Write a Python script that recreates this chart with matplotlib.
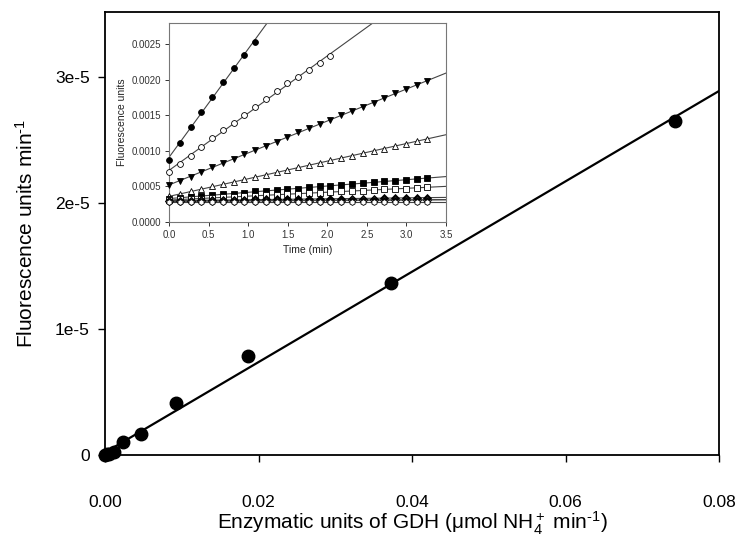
import numpy as np
import matplotlib
matplotlib.use("Agg")
import matplotlib.pyplot as plt
from matplotlib.ticker import FixedLocator, FixedFormatter

plt.rcParams['font.family'] = ['Liberation Sans', 'DejaVu Sans']
plt.rcParams['mathtext.fontset'] = 'custom'
plt.rcParams['mathtext.rm'] = 'Liberation Sans'
plt.rcParams['mathtext.it'] = 'Liberation Sans:italic'
plt.rcParams['mathtext.bf'] = 'Liberation Sans:bold'

# ---- main plot data ----
enzyme_units = [0.0743, 0.0372, 0.0186, 0.0093, 0.00465, 0.00232, 0.00116, 0.00058, 0.00029, 0.0]
fluor_rate = [2.65e-5, 1.37e-5, 0.79e-5, 0.41e-5, 0.167e-5, 0.103e-5, 0.024e-5, 0.010e-5, 0.005e-5, 0.0]
main_xticks = [0.00, 0.02, 0.04, 0.06, 0.08]
main_xticklabels = ['0.00', '0.02', '0.04', '0.06', '0.08']
main_yticks = [0.0, 1e-5, 2e-5, 3e-5]
main_yticklabels = ['0', '1e-5', '2e-5', '3e-5']

# ---- inset data (time courses) ----
time_min = [0.000, 0.136, 0.272, 0.408, 0.544, 0.680, 0.816, 0.952, 1.088, 1.224,
            1.360, 1.496, 1.632, 1.768, 1.904, 2.040, 2.176, 2.312, 2.448, 2.584,
            2.720, 2.856, 2.992, 3.128, 3.264]
s_circle = [0.00087, 0.00111, 0.00134, 0.00155, 0.00176, 0.00197, 0.00217, 0.00235, 0.00253]
s_circle_open = [0.00070, 0.00081, 0.00093, 0.00105, 0.00118, 0.00129, 0.00140, 0.00151,
                 0.00162, 0.00173, 0.00184, 0.00195, 0.00204, 0.00214, 0.00224, 0.00233]
s_tri_down = [0.00052, 0.00058, 0.00064, 0.00071, 0.00077, 0.00083, 0.00089, 0.00095,
              0.00101, 0.00107, 0.00113, 0.00119, 0.00126, 0.00132, 0.00138, 0.00144,
              0.00150, 0.00156, 0.00162, 0.00168, 0.00174, 0.00181, 0.00187, 0.00193, 0.00199]
s_tri_up_open = [0.00036, 0.00039, 0.00043, 0.00046, 0.00050, 0.00053, 0.00056, 0.00060,
                 0.00063, 0.00066, 0.00070, 0.00073, 0.00077, 0.00080, 0.00083, 0.00087,
                 0.00090, 0.00093, 0.00097, 0.00100, 0.00103, 0.00107, 0.00110, 0.00114, 0.00117]
s_square = [0.00033, 0.00034, 0.00035, 0.00037, 0.00038, 0.00039, 0.00040, 0.00041,
            0.00043, 0.00044, 0.00045, 0.00046, 0.00047, 0.00049, 0.00050, 0.00051,
            0.00052, 0.00053, 0.00055, 0.00056, 0.00057, 0.00058, 0.00059, 0.00061, 0.00062]
s_square_open = [0.00031, 0.00032, 0.00032, 0.00033, 0.00034, 0.00035, 0.00035, 0.00036,
                 0.00037, 0.00038, 0.00038, 0.00039, 0.00040, 0.00041, 0.00041, 0.00042,
                 0.00043, 0.00044, 0.00044, 0.00045, 0.00046, 0.00047, 0.00047, 0.00048, 0.00049]
s_diamond = [0.00030, 0.00030, 0.00030, 0.00031, 0.00031, 0.00031, 0.00031, 0.00031,
             0.00032, 0.00032, 0.00032, 0.00032, 0.00032, 0.00032, 0.00033, 0.00033,
             0.00033, 0.00033, 0.00033, 0.00033, 0.00034, 0.00034, 0.00034, 0.00034, 0.00034]
s_diamond_open = [0.00029, 0.00029, 0.00029, 0.00029, 0.00029, 0.00029, 0.00030, 0.00030,
                  0.00030, 0.00030, 0.00030, 0.00030, 0.00030, 0.00030, 0.00030, 0.00030,
                  0.00030, 0.00031, 0.00031, 0.00031, 0.00031, 0.00031, 0.00031, 0.00031, 0.00031]
s_hexagon = [0.00030, 0.00030, 0.00030, 0.00030, 0.00030, 0.00030, 0.00030, 0.00030,
             0.00030, 0.00030, 0.00030, 0.00031, 0.00031, 0.00031, 0.00031, 0.00031,
             0.00031, 0.00031, 0.00031, 0.00031, 0.00031, 0.00031, 0.00031, 0.00031, 0.00031]
s_hexagon_open = [0.00028, 0.00028, 0.00028, 0.00028, 0.00028, 0.00028, 0.00028, 0.00028,
                  0.00028, 0.00028, 0.00028, 0.00028, 0.00028, 0.00028, 0.00028, 0.00028,
                  0.00028, 0.00028, 0.00028, 0.00028, 0.00028, 0.00028, 0.00028, 0.00028, 0.00028]
inset_xticks = [0.0, 0.5, 1.0, 1.5, 2.0, 2.5, 3.0, 3.5]
inset_yticks = [0.0, 0.0005, 0.0010, 0.0015, 0.0020, 0.0025]

fig = plt.figure(figsize=(7.37, 5.44), dpi=100)
ax = fig.add_axes([0.1425, 0.1636, 0.8331, 0.8144])

# main regression line
coef = np.polyfit(enzyme_units, fluor_rate, 1)
xl = np.array([0.0, 0.08])
ax.plot(xl, np.polyval(coef, xl), color='black', lw=1.6, zorder=2)
ax.plot(enzyme_units, fluor_rate, 'o', color='black', ms=9, clip_on=False, zorder=3)

ax.set_xlim(0, 0.08)
ax.set_ylim(0, 3.52e-5)
ax.xaxis.set_major_locator(FixedLocator(main_xticks))
ax.xaxis.set_major_formatter(FixedFormatter(main_xticklabels))
ax.yaxis.set_major_locator(FixedLocator(main_yticks))
ax.yaxis.set_major_formatter(FixedFormatter(main_yticklabels))
ax.tick_params(direction='out', length=5, width=1.0, labelsize=12.5, colors='black')
ax.tick_params(axis='x', pad=24)
ax.tick_params(axis='y', pad=6)
for sp in ax.spines.values():
    sp.set_linewidth(1.3)
ax.set_xlabel('Enzymatic units of GDH (μmol NH$_4^+$ min$^{\u2010 1}$)', fontsize=15, va='center')
ax.xaxis.set_label_coords(0.5, -0.155)
ax.set_ylabel('Fluorescence units min$^{\u2010 1}$', fontsize=15, va='center')
ax.yaxis.set_label_coords(-0.129, 0.5)

# ---- inset ----
ins = fig.add_axes([0.2293, 0.5919, 0.3759, 0.3658])
series = [
    (s_circle, 'o', 'black'),
    (s_circle_open, 'o', 'white'),
    (s_tri_down, 'v', 'black'),
    (s_tri_up_open, '^', 'white'),
    (s_square, 's', 'black'),
    (s_square_open, 's', 'white'),
    (s_diamond, 'D', 'black'),
    (s_diamond_open, 'D', 'white'),
    (s_hexagon, 'h', 'black'),
    (s_hexagon_open, 'h', 'white'),
]
tl = np.array([0.0, 3.5])
for vals, mk, fc in series:
    t = time_min[:len(vals)]
    c = np.polyfit(t, vals, 1)
    ins.plot(tl, np.polyval(c, tl), color='#444444', lw=0.8, zorder=2)
    ins.plot(t, vals, mk, mfc=fc, mec='black', mew=0.6, ms=4.2, ls='none',
             clip_on=False, zorder=3)
ins.set_xlim(0, 3.5)
ins.set_ylim(0, 0.0028)
ins.set_xticks(inset_xticks)
ins.set_xticklabels(['%.1f' % v for v in inset_xticks])
ins.set_yticks(inset_yticks)
ins.set_yticklabels(['%.4f' % v for v in inset_yticks])
ins.tick_params(direction='out', length=3, width=0.7, labelsize=7, colors='#333333', pad=3)
for sp in ins.spines.values():
    sp.set_linewidth(0.8)
    sp.set_color('#777777')
ins.set_xlabel('Time (min)', fontsize=7.5, color='#222222', labelpad=3)
ins.set_ylabel('Fluorescence units', fontsize=7.5, color='#222222', labelpad=3)

fig.savefig('out.png', dpi=100)
